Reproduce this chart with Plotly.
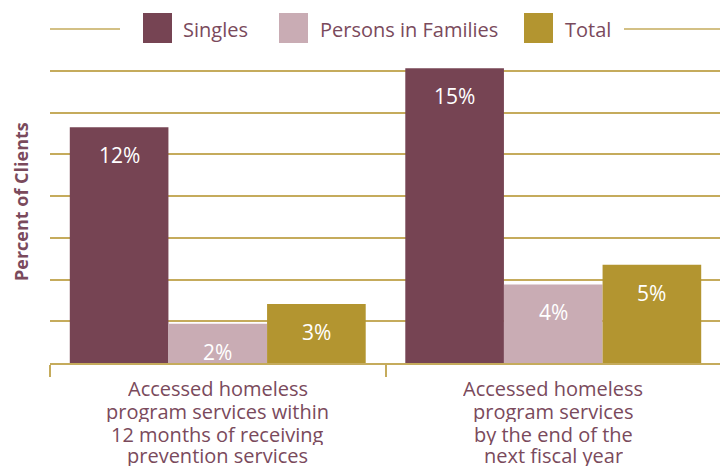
import plotly.graph_objects as go

category_lines = [
    ["Accessed homeless", "program services within", "12 months of receiving", "prevention services"],
    ["Accessed homeless", "program services", "by the end of the", "next fiscal year"],
]
categories = ["<br>".join(lines) for lines in category_lines]
series_names = ["Singles", "Persons in Families", "Total"]
singles = [12, 15]
families = [2, 4]
total = [3, 5]
colors = ["#764453", "#c9acb4", "#b39530"]

TEXT = "#7a4a5c"
GOLD = "#c5ab5c"
FONT = "Open Sans"
BARGAP = 0.118

fig = go.Figure()
all_vals = [singles, families, total]
for name, vals, col in zip(series_names, all_vals, colors):
    fig.add_trace(go.Bar(x=categories, y=vals, name=name, marker=dict(color=col, line=dict(width=0)),
                         showlegend=False))

# value labels inside bars near top
w = (1 - BARGAP) / 3
for i, vals in enumerate(all_vals):
    for j, v in enumerate(vals):
        fig.add_annotation(x=j + (i - 1) * w, y=v, xref="x", yref="y", text=f"{v}%",
                           showarrow=False, yanchor="middle", yshift=-28,
                           font=dict(family=FONT, size=21, color="white"))

# screen px -> paper coords; plot area spans x 50..721, y 29..363 on screen
PW, PH = 671.0, 334.0
def px(xp):
    return (xp - 50) / PW
def py(yp):
    return (363 - yp) / PH

# category labels, one line per annotation for tighter line spacing
line_centers = [388, 411, 434, 455]
for j, lines in enumerate(category_lines):
    for ln, yc in zip(lines, line_centers):
        fig.add_annotation(x=j, xref="x", yref="paper", y=py(yc), text=ln, showarrow=False,
                           xanchor="center", yanchor="middle", height=21, valign="middle",
                           font=dict(family=FONT, size=20, color=TEXT))

# manual legend
legend_items = [(143, 181), (279, 318), (524, 563)]
for (sx, tx), name, col in zip(legend_items, series_names, colors):
    fig.add_shape(type="rect", xref="paper", yref="paper", x0=px(sx), x1=px(sx + 29),
                  y0=py(43), y1=py(13), fillcolor=col, line=dict(width=0))
    fig.add_annotation(xref="paper", yref="paper", x=px(tx), y=py(29), text=name,
                       showarrow=False, xanchor="left", yanchor="middle",
                       font=dict(family=FONT, size=20, color=TEXT))
for x0, x1 in [(50, 120), (624, 721)]:
    fig.add_shape(type="line", xref="paper", yref="paper", x0=px(x0), x1=px(x1),
                  y0=1, y1=1, line=dict(color=GOLD, width=1.5))

# y axis title
fig.add_annotation(xref="paper", yref="paper", x=px(21), y=py(202), text="<b>Percent of Clients</b>",
                   textangle=-90, showarrow=False, xanchor="center", yanchor="middle",
                   font=dict(family=FONT, size=18, color=TEXT))

# page body has an 8px margin, so the figure is 720x460 and offset by 8px
fig.update_layout(
    barmode="group", bargap=BARGAP, bargroupgap=0,
    width=720, height=460,
    margin=dict(l=42, r=7, t=21, b=105, autoexpand=False),
    paper_bgcolor="white", plot_bgcolor="white",
    font=dict(family=FONT, color=TEXT),
)
fig.update_yaxes(range=[0, 17], tickvals=[17 / 8 * k for k in range(1, 8)], showticklabels=False,
                 showgrid=True, gridcolor=GOLD, gridwidth=1.5, zeroline=False, showline=False,
                 automargin=False)
fig.update_xaxes(showline=True, linecolor=GOLD, linewidth=1.5, ticks="outside", tickson="boundaries",
                 ticklen=12, tickcolor=GOLD, tickwidth=1.5, automargin=False, showticklabels=False)

fig.write_html("out.html")
